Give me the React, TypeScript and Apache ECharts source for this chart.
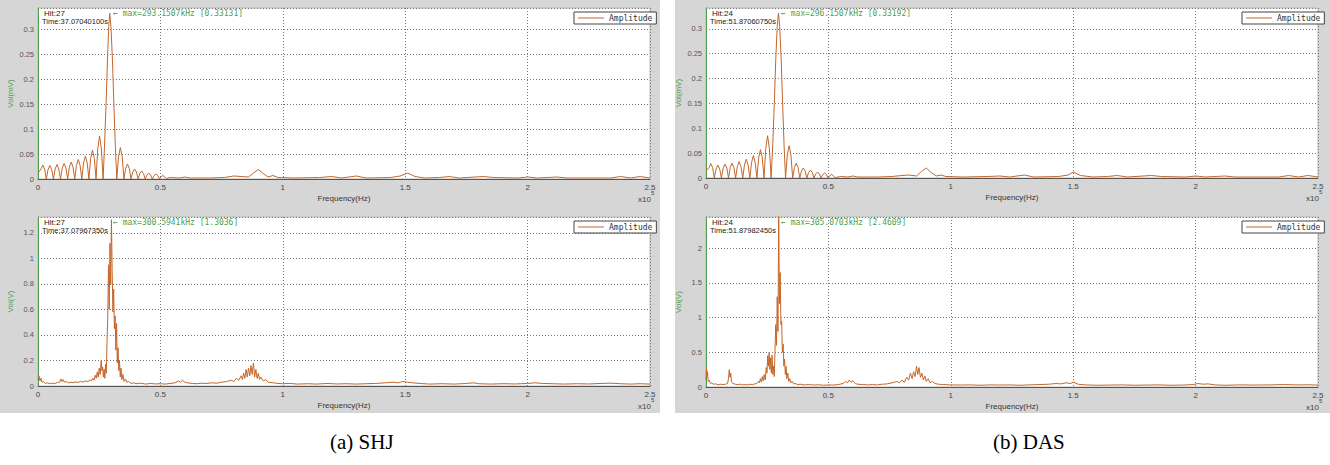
import React, { useEffect, useRef } from "react";
import * as echarts from "echarts";

// Frequency in units of 1e5 Hz, amplitude in the panel's unit
const shjTop: number[][] = [
  [0, 0.012], [0.0125, 0.02], [0.0195, 0.028], [0.027, 0.02], [0.034, 0],
  [0.041, 0.019], [0.0485, 0.027], [0.056, 0.019], [0.063, 0],
  [0.07, 0.02], [0.0775, 0.029], [0.085, 0.02], [0.092, 0],
  [0.099, 0.022], [0.1065, 0.031], [0.114, 0.022], [0.121, 0],
  [0.128, 0.024], [0.1355, 0.034], [0.143, 0.024], [0.15, 0],
  [0.157, 0.027], [0.1645, 0.039], [0.172, 0.027], [0.179, 0],
  [0.186, 0.032], [0.1935, 0.046], [0.201, 0.032], [0.208, 0],
  [0.215, 0.041], [0.2225, 0.058], [0.23, 0.041], [0.237, 0],
  [0.244, 0.06], [0.2515, 0.086], [0.259, 0.06], [0.266, 0],
  [0.272, 0.07], [0.278, 0.15], [0.284, 0.24], [0.289, 0.305], [0.293, 0.33131],
  [0.298, 0.305], [0.304, 0.24], [0.31, 0.15], [0.316, 0.065], [0.322, 0],
  [0.329, 0.045], [0.3365, 0.063], [0.344, 0.045], [0.351, 0],
  [0.358, 0.021], [0.3655, 0.03], [0.373, 0.021], [0.38, 0],
  [0.387, 0.014], [0.3945, 0.02], [0.402, 0.014], [0.409, 0],
  [0.416, 0.011], [0.4235, 0.016], [0.431, 0.011], [0.438, 0],
  [0.445, 0.008], [0.4525, 0.012], [0.46, 0.008], [0.467, 0],
  [0.474, 0.007], [0.4815, 0.01], [0.489, 0.007], [0.496, 0],
  [0.503, 0.005], [0.5105, 0.007], [0.518, 0.004], [0.525, 0.001],
  [0.54, 0.003], [0.58, 0.002], [0.6, 0.004], [0.62, 0.002], [0.7, 0.002],
  [0.76, 0.003], [0.8, 0.006], [0.83, 0.005], [0.86, 0.004], [0.88, 0.012],
  [0.9, 0.019], [0.92, 0.011], [0.94, 0.004], [0.96, 0.007], [0.98, 0.003],
  [1.05, 0.002], [1.15, 0.003], [1.2, 0.005], [1.24, 0.002], [1.3, 0.006],
  [1.34, 0.002], [1.44, 0.003], [1.48, 0.006], [1.51, 0.012], [1.54, 0.005],
  [1.58, 0.002], [1.64, 0.003], [1.68, 0.005], [1.72, 0.002], [1.82, 0.005],
  [1.86, 0.003], [1.96, 0.002], [2.0, 0.004], [2.04, 0.002], [2.12, 0.004],
  [2.16, 0.002], [2.34, 0.002], [2.38, 0.005], [2.42, 0.002], [2.46, 0.005], [2.5, 0.002],
];

const dasTop: number[][] = [
  [0, 0.014], [0.0125, 0.021], [0.0195, 0.029], [0.027, 0.021], [0.034, 0],
  [0.041, 0.018], [0.0485, 0.026], [0.056, 0.018], [0.063, 0],
  [0.07, 0.02], [0.0775, 0.028], [0.085, 0.02], [0.092, 0],
  [0.099, 0.021], [0.1065, 0.03], [0.114, 0.021], [0.121, 0],
  [0.128, 0.023], [0.1355, 0.033], [0.143, 0.023], [0.15, 0],
  [0.157, 0.026], [0.1645, 0.038], [0.172, 0.026], [0.179, 0],
  [0.186, 0.031], [0.1935, 0.045], [0.201, 0.031], [0.208, 0],
  [0.215, 0.04], [0.2225, 0.057], [0.23, 0.04], [0.237, 0],
  [0.244, 0.059], [0.2515, 0.085], [0.259, 0.059], [0.266, 0],
  [0.273, 0.07], [0.279, 0.15], [0.285, 0.24], [0.291, 0.305], [0.296, 0.33192],
  [0.301, 0.305], [0.307, 0.24], [0.313, 0.15], [0.319, 0.065], [0.325, 0],
  [0.332, 0.046], [0.3395, 0.065], [0.347, 0.046], [0.354, 0],
  [0.361, 0.021], [0.3685, 0.03], [0.376, 0.021], [0.383, 0],
  [0.39, 0.014], [0.3975, 0.02], [0.405, 0.014], [0.412, 0],
  [0.419, 0.011], [0.4265, 0.016], [0.434, 0.011], [0.441, 0],
  [0.448, 0.008], [0.4555, 0.012], [0.463, 0.008], [0.47, 0],
  [0.477, 0.007], [0.4845, 0.01], [0.492, 0.007], [0.499, 0],
  [0.506, 0.005], [0.5135, 0.007], [0.521, 0.004], [0.528, 0.001],
  [0.55, 0.003], [0.58, 0.002], [0.6, 0.004], [0.62, 0.002], [0.7, 0.002],
  [0.76, 0.003], [0.8, 0.005], [0.83, 0.006], [0.86, 0.004], [0.88, 0.013],
  [0.9, 0.02], [0.92, 0.011], [0.94, 0.004], [0.96, 0.006], [0.98, 0.003],
  [1.05, 0.002], [1.15, 0.003], [1.2, 0.004], [1.24, 0.002], [1.3, 0.006],
  [1.34, 0.002], [1.44, 0.003], [1.48, 0.006], [1.5, 0.012], [1.53, 0.005],
  [1.58, 0.002], [1.64, 0.003], [1.68, 0.005], [1.72, 0.002], [1.82, 0.005],
  [1.86, 0.003], [1.96, 0.002], [2.0, 0.004], [2.04, 0.002], [2.12, 0.004],
  [2.16, 0.002], [2.34, 0.002], [2.38, 0.005], [2.42, 0.002], [2.46, 0.005], [2.5, 0.002],
];

const shjBottom: number[][] = [
  [0, 0.05], [0.004, 0.08], [0.008, 0.04], [0.012, 0.06], [0.016, 0.03], [0.022, 0.035],
  [0.03, 0.02], [0.04, 0.025], [0.05, 0.018], [0.06, 0.022], [0.07, 0.02], [0.08, 0.028],
  [0.088, 0.03], [0.094, 0.055], [0.098, 0.035], [0.103, 0.05], [0.108, 0.03], [0.115, 0.035],
  [0.124, 0.025], [0.134, 0.03], [0.144, 0.026], [0.154, 0.032], [0.164, 0.028], [0.174, 0.036],
  [0.184, 0.03], [0.194, 0.04], [0.204, 0.035], [0.212, 0.048], [0.218, 0.04], [0.224, 0.06],
  [0.229, 0.045], [0.234, 0.085], [0.238, 0.06], [0.242, 0.11], [0.246, 0.07], [0.25, 0.14],
  [0.254, 0.09], [0.258, 0.2], [0.261, 0.12], [0.264, 0.15], [0.267, 0.07], [0.27, 0.13],
  [0.273, 0.06], [0.276, 0.17], [0.279, 0.1], [0.282, 0.35], [0.285, 0.55], [0.288, 0.95],
  [0.291, 0.6], [0.294, 1.12], [0.297, 0.8], [0.3, 1.3036], [0.303, 0.9], [0.306, 0.58],
  [0.309, 0.76], [0.312, 0.45], [0.315, 0.55], [0.318, 0.28], [0.321, 0.49], [0.324, 0.18],
  [0.327, 0.3], [0.33, 0.12], [0.333, 0.2], [0.336, 0.07], [0.339, 0.14], [0.343, 0.05],
  [0.347, 0.09], [0.352, 0.035], [0.357, 0.055], [0.363, 0.03], [0.37, 0.035], [0.38, 0.02],
  [0.39, 0.025], [0.4, 0.018], [0.42, 0.022], [0.44, 0.015], [0.46, 0.02], [0.48, 0.016],
  [0.5, 0.018], [0.52, 0.015], [0.54, 0.02], [0.56, 0.025], [0.575, 0.04], [0.582, 0.03],
  [0.59, 0.045], [0.6, 0.03], [0.61, 0.025], [0.63, 0.02], [0.65, 0.018], [0.67, 0.022],
  [0.69, 0.02], [0.71, 0.025], [0.73, 0.022], [0.75, 0.03], [0.77, 0.035], [0.79, 0.045],
  [0.8, 0.035], [0.81, 0.06], [0.82, 0.045], [0.83, 0.08], [0.835, 0.05], [0.84, 0.1],
  [0.845, 0.06], [0.85, 0.13], [0.855, 0.07], [0.86, 0.14], [0.865, 0.08], [0.87, 0.16],
  [0.875, 0.09], [0.88, 0.18], [0.885, 0.07], [0.89, 0.13], [0.895, 0.06], [0.9, 0.1],
  [0.905, 0.05], [0.91, 0.07], [0.92, 0.04], [0.93, 0.05], [0.94, 0.03], [0.96, 0.025],
  [0.98, 0.02], [1.0, 0.018], [1.03, 0.02], [1.06, 0.015], [1.1, 0.018], [1.14, 0.015],
  [1.18, 0.02], [1.22, 0.016], [1.26, 0.018], [1.3, 0.015], [1.34, 0.018], [1.38, 0.02],
  [1.42, 0.025], [1.45, 0.03], [1.47, 0.025], [1.49, 0.035], [1.51, 0.03], [1.53, 0.025],
  [1.56, 0.02], [1.6, 0.015], [1.65, 0.018], [1.7, 0.015], [1.75, 0.02], [1.78, 0.025],
  [1.8, 0.018], [1.85, 0.015], [1.9, 0.018], [1.95, 0.016], [2.0, 0.02], [2.03, 0.025],
  [2.06, 0.02], [2.1, 0.018], [2.15, 0.015], [2.2, 0.018], [2.25, 0.016], [2.3, 0.02],
  [2.34, 0.022], [2.38, 0.018], [2.42, 0.015], [2.46, 0.018], [2.5, 0.015],
];

const dasBottom: number[][] = [
  [0, 0.1], [0.002, 0.28], [0.004, 0.15], [0.006, 0.22], [0.009, 0.08], [0.013, 0.1],
  [0.018, 0.05], [0.024, 0.06], [0.03, 0.04], [0.04, 0.045], [0.05, 0.03], [0.06, 0.04],
  [0.07, 0.035], [0.08, 0.04], [0.088, 0.05], [0.092, 0.12], [0.095, 0.25], [0.098, 0.14],
  [0.101, 0.2], [0.104, 0.07], [0.11, 0.05], [0.12, 0.04], [0.13, 0.035], [0.14, 0.04],
  [0.15, 0.03], [0.16, 0.035], [0.17, 0.03], [0.18, 0.04], [0.19, 0.035], [0.2, 0.045],
  [0.208, 0.05], [0.214, 0.08], [0.218, 0.06], [0.222, 0.12], [0.226, 0.07], [0.23, 0.15],
  [0.234, 0.09], [0.238, 0.18], [0.242, 0.1], [0.246, 0.28], [0.249, 0.2], [0.252, 0.45],
  [0.255, 0.3], [0.258, 0.5], [0.261, 0.25], [0.264, 0.42], [0.267, 0.2], [0.27, 0.46],
  [0.273, 0.18], [0.276, 0.3], [0.279, 0.15], [0.282, 0.55], [0.285, 0.9], [0.288, 0.6],
  [0.291, 1.3], [0.294, 0.8], [0.297, 2.4609], [0.3, 1.2], [0.303, 1.65], [0.306, 0.9],
  [0.309, 0.95], [0.312, 0.5], [0.315, 0.62], [0.318, 0.3], [0.321, 0.4], [0.324, 0.18],
  [0.327, 0.3], [0.33, 0.12], [0.334, 0.2], [0.338, 0.08], [0.342, 0.12], [0.347, 0.06],
  [0.352, 0.08], [0.358, 0.045], [0.365, 0.05], [0.375, 0.035], [0.385, 0.04], [0.4, 0.03],
  [0.42, 0.035], [0.44, 0.028], [0.46, 0.032], [0.48, 0.025], [0.5, 0.03], [0.52, 0.028],
  [0.54, 0.035], [0.56, 0.05], [0.57, 0.08], [0.578, 0.06], [0.585, 0.1], [0.592, 0.07],
  [0.6, 0.09], [0.61, 0.05], [0.62, 0.04], [0.64, 0.035], [0.66, 0.03], [0.68, 0.035],
  [0.7, 0.03], [0.72, 0.04], [0.74, 0.045], [0.76, 0.06], [0.78, 0.08], [0.79, 0.06],
  [0.8, 0.1], [0.81, 0.07], [0.82, 0.14], [0.828, 0.1], [0.835, 0.2], [0.842, 0.12],
  [0.848, 0.22], [0.854, 0.15], [0.86, 0.3], [0.865, 0.18], [0.87, 0.28], [0.876, 0.14],
  [0.882, 0.2], [0.888, 0.1], [0.894, 0.16], [0.9, 0.08], [0.908, 0.12], [0.915, 0.06],
  [0.925, 0.08], [0.935, 0.05], [0.95, 0.04], [0.97, 0.035], [1.0, 0.03], [1.04, 0.028],
  [1.08, 0.03], [1.12, 0.025], [1.16, 0.03], [1.2, 0.028], [1.24, 0.03], [1.28, 0.025],
  [1.32, 0.03], [1.36, 0.035], [1.4, 0.04], [1.43, 0.05], [1.45, 0.045], [1.47, 0.06],
  [1.49, 0.05], [1.5, 0.07], [1.52, 0.04], [1.55, 0.03], [1.6, 0.025], [1.65, 0.028],
  [1.7, 0.03], [1.75, 0.025], [1.8, 0.028], [1.85, 0.03], [1.9, 0.025], [1.95, 0.028],
  [1.99, 0.035], [2.01, 0.05], [2.03, 0.04], [2.05, 0.045], [2.08, 0.03], [2.12, 0.025],
  [2.18, 0.03], [2.24, 0.028], [2.3, 0.03], [2.36, 0.035], [2.42, 0.03], [2.46, 0.032], [2.5, 0.028],
];

const panelSeries = [shjTop, shjBottom, dasTop, dasBottom];
const yMax = [0.342, 1.325, 0.342, 2.45];
const yStep = [0.05, 0.2, 0.05, 0.5];
const yNames = ["Vol(mV)", "Vol(V)", "Vol(mV)", "Vol(V)"];
const hitLabels = ["Hit:27", "Hit:27", "Hit:24", "Hit:24"];
const timeLabels = ["Time:37.07040100s", "Time:37.07967350s", "Time:51.87060750s", "Time:51.87982450s"];
const maxLabels = [
  "\u2190 max=293.1507kHz [0.33131]",
  "\u2190 max=300.5941kHz [1.3036]",
  "\u2190 max=296.1507kHz [0.33192]",
  "\u2190 max=305.0703kHz [2.4609]",
];
const captions = ["(a) SHJ", "(b) DAS"];

const grids = [
  { left: 38, top: 8, width: 612, height: 171 },
  { left: 38, top: 217, width: 612, height: 169 },
  { left: 706, top: 8, width: 612, height: 170 },
  { left: 706, top: 217, width: 612, height: 170 },
];

const LINE = "#c4662a";
const GREEN = "#4e9e4e";

function buildOption() {
  const xAxis: any[] = [];
  const yAxis: any[] = [];
  const series: any[] = [];
  const legend: any[] = [];
  const graphic: any[] = [];
  grids.forEach((g, i) => {
    xAxis.push({
      type: "value",
      gridIndex: i,
      min: 0,
      max: 2.5,
      interval: 0.5,
      name: "Frequency(Hz)",
      nameLocation: "middle",
      nameGap: 15,
      nameTextStyle: { fontSize: 8, color: "#333", fontFamily: "Liberation Sans" },
      axisLine: { lineStyle: { color: "#555", width: 1 } },
      axisTick: { show: false },
      axisLabel: { fontSize: 8, color: "#444", margin: 4, fontFamily: "Liberation Sans" },
      splitLine: { show: true, lineStyle: { color: "#777", type: [1, 2], width: 1 } },
    });
    yAxis.push({
      type: "value",
      gridIndex: i,
      min: 0,
      max: yMax[i],
      interval: yStep[i],
      name: yNames[i],
      nameLocation: "middle",
      nameGap: 24,
      nameTextStyle: { fontSize: 8, color: GREEN, fontFamily: "Liberation Sans" },
      axisLine: { show: true, lineStyle: { color: GREEN, width: 1 } },
      axisTick: { show: false },
      axisLabel: { fontSize: 7.5, color: "#555", margin: 4, showMaxLabel: false, fontFamily: "Liberation Sans" },
      splitLine: { show: true, lineStyle: { color: "#777", type: [1, 2], width: 1 } },
    });
    series.push({
      type: "line",
      name: "Amplitude",
      xAxisIndex: i,
      yAxisIndex: i,
      data: panelSeries[i],
      showSymbol: false,
      clip: true,
      lineStyle: { color: LINE, width: 1 },
      itemStyle: { color: LINE },
    });
    legend.push({
      data: ["Amplitude"],
      left: g.left + g.width - 76,
      top: g.top + 4,
      selectedMode: false,
      icon: "rect",
      itemWidth: 26,
      itemHeight: 1,
      itemGap: 4,
      padding: [2, 4, 2, 4],
      backgroundColor: "#fff",
      borderColor: "#444",
      borderWidth: 1,
      borderRadius: 0,
      textStyle: { fontSize: 8, color: "#333", fontFamily: "DejaVu Sans Mono" },
    });
    graphic.push(
      {
        type: "text",
        left: g.left + 6,
        top: g.top + 1,
        z: 100,
        style: { text: hitLabels[i], fontSize: 8, fill: "#222", fontFamily: "Liberation Sans" },
      },
      {
        type: "text",
        left: g.left + 4,
        top: g.top + 9,
        z: 100,
        style: { text: timeLabels[i], fontSize: 7.5, fill: "#222", fontFamily: "Liberation Sans" },
      },
      {
        type: "text",
        left: g.left + 75,
        top: g.top + 1,
        z: 100,
        style: { text: maxLabels[i], fontSize: 8, fill: GREEN, fontFamily: "DejaVu Sans Mono" },
      },
      {
        type: "text",
        left: g.left + g.width - 12,
        top: g.top + g.height + 16,
        z: 100,
        style: { text: "x10", fontSize: 8, fill: "#444", fontFamily: "Liberation Sans" },
      },
      {
        type: "text",
        left: g.left + g.width + 1,
        top: g.top + g.height + 11,
        z: 100,
        style: { text: "5", fontSize: 6, fill: "#444", fontFamily: "Liberation Sans" },
      }
    );
  });
  graphic.push(
    {
      type: "text",
      left: 330,
      top: 431,
      style: { text: captions[0], fontSize: 21, fill: "#000", fontFamily: "Liberation Serif" },
    },
    {
      type: "text",
      left: 993,
      top: 431,
      style: { text: captions[1], fontSize: 21, fill: "#000", fontFamily: "Liberation Serif" },
    }
  );
  return {
    animation: false,
    backgroundColor: "transparent",
    grid: grids.map((g) => ({
      ...g,
      show: true,
      backgroundColor: "#fff",
      borderColor: "#bbb",
      borderWidth: 1,
    })),
    xAxis,
    yAxis,
    series,
    legend,
    graphic,
  };
}

export default function App() {
  const ref = useRef<HTMLDivElement>(null);
  useEffect(() => {
    if (!ref.current) return;
    const chart = echarts.init(ref.current, null, { renderer: "svg" });
    chart.setOption(buildOption() as any);
    return () => chart.dispose();
  }, []);
  return (
    <div style={{ position: "fixed", left: 0, top: 0, width: 1330, height: 465, background: "#fff" }}>
      <div style={{ position: "absolute", left: 0, top: 0, width: 660, height: 413, background: "#d6d6d6" }} />
      <div style={{ position: "absolute", left: 675, top: 0, width: 655, height: 413, background: "#d6d6d6" }} />
      <div ref={ref} style={{ position: "absolute", left: 0, top: 0, width: 1330, height: 465 }} />
    </div>
  );
}
